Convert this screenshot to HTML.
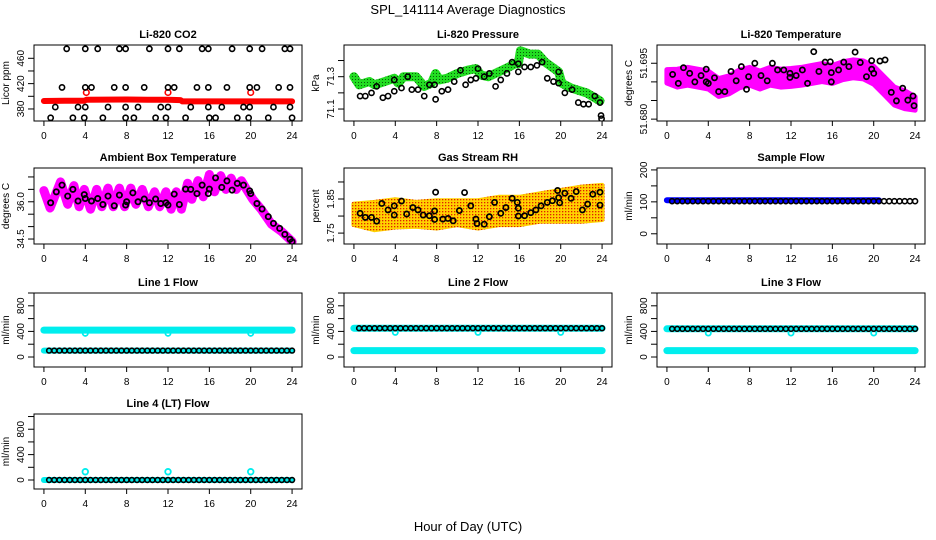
<!DOCTYPE html>
<html><head><meta charset="utf-8">
<style>
html,body{margin:0;padding:0;background:#fff;}
svg{display:block;font-family:"Liberation Sans",Arial,sans-serif;}
</style></head>
<body>
<svg id="chart" width="936" height="540" viewBox="0 0 936 540" xmlns="http://www.w3.org/2000/svg">
<defs>
<pattern id="pGreen" width="3" height="3" patternUnits="userSpaceOnUse"><rect width="3" height="3" fill="#22dd22"/><rect x="1" y="1" width="1" height="1" fill="#0a5a0a"/></pattern>
<pattern id="pOrange" width="3" height="3" patternUnits="userSpaceOnUse"><rect width="3" height="3" fill="#ffd200"/><rect x="1" y="1" width="1.3" height="1.3" fill="#e02000"/></pattern>
</defs>
<text x="468" y="14" text-anchor="middle" font-size="13">SPL_141114  Average Diagnostics</text>
<text x="468" y="531" text-anchor="middle" font-size="13">Hour of Day (UTC)</text>
</svg>
<script>
// ---------- DATA ----------
const xTicks = [0,4,8,12,16,20,24];

// Panel 1: CO2
const co2Hours = [2.2,4.0,5.2,7.3,7.9,10.2,12.0,13.1,15.3,15.9,18.2,19.9,21.1,23.3,23.8,
 1.75,4.0,4.6,6.8,7.9,9.7,12.0,12.6,14.8,15.9,17.7,19.9,20.6,22.7,23.8,
 1.1,3.3,4.0,6.2,7.9,9.1,11.3,12.0,14.2,15.9,17.2,19.3,19.9,22.2,23.8,
 0.65,2.8,3.9,5.7,7.9,8.7,10.8,11.8,13.7,16.0,16.6,18.7,19.8,21.7,24.0];
const co2Vals = [475,475,475,475,475,475,475,475,475,475,475,475,475,475,475,
 414,414,414,414,414,414,414,414,414,414,414,414,414,414,414,
 383,383,383,383,383,383,383,383,383,383,383,383,383,383,383,
 366,366,366,366,366,366,366,366,366,366,366,366,366,366,366];
const co2LineHours = [0,2,3.9,4.1,8,10,12,13.2,13.4,16,18,20,22,24];
const co2LineVals = [392.5,393,393,394.5,395,394.5,394.5,394,392,392,392,392,392,392];
const co2RedHours = [4.1,12.0,20.0];
const co2RedVals = [406,406,406];

// Panel 2: Pressure
const presGreenHours = [0,0.5,1.5,2,3,3.9,4.3,4.8,6,6.8,7.5,7.9,8.3,9,10,11,11.8,12.3,13,14,15,15.6,15.9,16.1,17,17.8,18.5,19.8,20.1,21,22.5,23.8];
const presGreenVals = [71.30,71.25,71.27,71.25,71.27,71.29,71.26,71.30,71.30,71.24,71.26,71.32,71.28,71.29,71.32,71.34,71.35,71.31,71.30,71.33,71.36,71.38,71.38,71.46,71.44,71.44,71.39,71.33,71.26,71.23,71.20,71.15];
const presHours = [0.6,1.1,1.7,2.2,2.8,3.3,3.9,3.9,4.6,5.2,5.6,6.2,6.8,7.3,7.8,7.9,8.5,9.1,9.7,10.3,10.8,11.3,11.8,12.0,12.6,13.1,13.7,14.2,14.8,15.3,15.9,15.9,16.5,17.1,17.7,18.2,18.7,19.3,19.8,19.8,20.4,21.1,21.7,22.2,22.7,23.3,23.8,23.9,23.95];
const presVals = [71.18,71.18,71.20,71.24,71.17,71.18,71.21,71.28,71.23,71.30,71.22,71.22,71.18,71.25,71.25,71.16,71.21,71.22,71.27,71.34,71.25,71.28,71.29,71.35,71.30,71.32,71.24,71.28,71.32,71.39,71.33,71.38,71.36,71.36,71.37,71.39,71.29,71.27,71.26,71.33,71.20,71.22,71.14,71.13,71.13,71.18,71.14,71.06,71.04];

// Panel 3: Li-820 temperature
const tempCloudHours = [0,1,2,3,4,5,6,7,8,9,10,11,12,13,14,15,16,17,18,19,20,21,22,23,24];
const tempCloudMid = [51.6915,51.6910,51.6915,51.6910,51.6905,51.6885,51.6892,51.6908,51.6915,51.6905,51.6915,51.6910,51.6912,51.6915,51.6920,51.6925,51.6920,51.6930,51.6935,51.6932,51.6918,51.6890,51.6862,51.6852,51.6842];
const tempCloudSpread = [0.0018,0.0024,0.0024,0.0024,0.0024,0.0024,0.0024,0.0024,0.0024,0.0024,0.0024,0.0024,0.0024,0.0024,0.0024,0.0024,0.0024,0.0024,0.0024,0.0024,0.0024,0.0024,0.0024,0.0024,0.0018];
const tempHours = [0.55,1.1,1.6,2.2,2.7,3.3,3.8,3.8,4.0,4.6,5.0,5.6,6.2,6.7,7.2,7.9,7.7,8.5,9.1,9.7,10.2,10.7,11.3,11.9,11.9,12.5,13.1,13.6,14.2,14.7,15.3,15.8,15.9,15.9,16.6,17.1,17.6,18.2,18.7,19.3,19.8,19.8,20.0,20.6,21.1,21.7,22.2,22.8,23.3,23.8,23.9];
const tempVals = [51.6920,51.6896,51.6938,51.6923,51.6900,51.6917,51.6934,51.6900,51.6896,51.6911,51.6874,51.6874,51.6928,51.6903,51.6941,51.6914,51.6880,51.6950,51.6917,51.6903,51.6950,51.6932,51.6932,51.6923,51.6912,51.6917,51.6932,51.6896,51.6981,51.6928,51.6953,51.6954,51.6925,51.6900,51.6932,51.6953,51.6941,51.6980,51.6952,51.6914,51.6957,51.6934,51.6923,51.6956,51.6959,51.6872,51.6849,51.6883,51.6851,51.6862,51.6836];

// Panel 4: Ambient box temperature
const ambLineHours = [0,0.6,1.6,2.3,2.9,3.4,3.9,4.5,5.1,5.6,6.2,6.7,7.3,7.8,8.4,8.9,9.5,10.1,10.7,11.2,11.8,12.3,12.8,13.3,13.9,14.3,14.9,15.4,16.0,16.5,17.1,17.6,18.1,18.6,19.1,19.6,20.2,21,22,23,24];
const ambLineVals = [36.45,35.75,36.8,35.9,36.65,35.8,36.5,35.7,36.5,35.8,36.55,35.8,36.55,35.8,36.55,35.9,36.5,35.8,36.4,35.8,36.4,35.7,36.4,35.7,36.75,36.1,36.85,36.2,37.1,36.4,37.05,36.5,36.95,36.5,36.85,36.5,36.1,35.7,35.1,34.8,34.4];
const ambHours = [0.65,1.2,1.75,2.3,2.8,3.3,3.9,4.0,4.6,5.2,5.7,6.2,6.8,7.3,7.9,8.0,8.6,9.1,9.7,10.2,10.8,11.3,11.8,12.0,12.6,13.1,13.7,14.2,14.8,15.3,15.9,16.0,16.6,17.2,17.7,18.2,18.7,19.3,19.9,20.0,20.6,21.1,21.7,22.2,22.8,23.3,23.8,24.0];
const ambVals = [35.96,36.4,36.67,36.23,36.5,36.03,36.29,36.13,36.03,36.13,35.89,36.23,35.84,36.27,35.87,36.0,36.36,36.0,36.11,35.96,36.11,35.93,35.96,35.87,36.31,35.89,36.51,36.5,36.33,36.67,36.33,36.51,36.96,36.58,36.84,36.47,36.74,36.67,36.44,36.33,35.93,35.71,35.4,35.13,34.93,34.69,34.49,34.39];

// Panel 5: Gas stream RH
const rhCloudHours = [0,2,4,6,8,10,12,14,16,18,20,22,24];
const rhCloudMid = [1.805,1.800,1.808,1.805,1.805,1.810,1.805,1.815,1.815,1.825,1.830,1.835,1.840];
const rhCloudSpread = [0.03,0.04,0.04,0.035,0.04,0.035,0.04,0.04,0.04,0.04,0.045,0.05,0.05];
const rhHours = [0.6,1.1,1.7,2.2,2.7,3.3,3.9,3.9,4.6,5.1,5.7,6.2,6.7,7.3,7.8,7.9,7.8,8.6,9.1,9.6,10.2,10.7,11.3,11.8,11.9,12.6,13.1,13.6,14.2,14.7,15.3,15.8,15.9,15.9,16.5,17.1,17.6,18.1,18.7,19.2,19.7,19.8,19.9,20.4,21.0,21.5,22.1,22.6,23.1,23.8,23.8];
const rhVals = [1.808,1.796,1.796,1.785,1.837,1.818,1.803,1.830,1.844,1.806,1.825,1.818,1.803,1.801,1.815,1.870,1.790,1.791,1.793,1.786,1.816,1.869,1.830,1.791,1.778,1.776,1.798,1.840,1.808,1.825,1.852,1.840,1.823,1.800,1.801,1.810,1.818,1.830,1.840,1.845,1.875,1.854,1.839,1.867,1.852,1.872,1.818,1.835,1.864,1.870,1.832];

// Shared hours for flow series
const flowHours = [0.5,1,1.5,2,2.5,3,3.5,4,4.5,5,5.5,6,6.5,7,7.5,8,8.5,9,9.5,10,10.5,11,11.5,12,12.5,13,13.5,14,14.5,15,15.5,16,16.5,17,17.5,18,18.5,19,19.5,20,20.5,21,21.5,22,22.5,23,23.5,24];

// Panel 6: Sample flow
const sampleBandHours = [0,20.5];
const sampleBandVals = [105,105];
const sampleVals = [102,102,102,102,102,102,102,102,102,102,102,102,102,102,102,102,102,102,102,102,102,102,102,102,102,102,102,102,102,102,102,102,102,102,102,102,102,102,102,102,102,102,102,102,102,102,102,102];

// Panels 7-10: line flows
const line1CyanHours = [0,24];
const line1CyanHigh = [420,420];
const line1CyanLow = [100,100];
const line1DipHours = [4,12,20];
const line1DipVals = [370,370,370];
const line1Vals = [100,100,100,100,100,100,100,100,100,100,100,100,100,100,100,100,100,100,100,100,100,100,100,100,100,100,100,100,100,100,100,100,100,100,100,100,100,100,100,100,100,100,100,100,100,100,100,100];

const line2CyanHours = [0,24];
const line2CyanHigh = [450,450];
const line2CyanLow = [100,100];
const line2DipHours = [4,12,20];
const line2DipVals = [385,385,385];
const line2Vals = [450,450,450,450,450,450,450,450,450,450,450,450,450,450,450,450,450,450,450,450,450,450,450,450,450,450,450,450,450,450,450,450,450,450,450,450,450,450,450,450,450,450,450,450,450,450,450,450];

const line3CyanHours = [0,24];
const line3CyanHigh = [440,440];
const line3CyanLow = [100,100];
const line3DipHours = [4,12,20];
const line3DipVals = [375,375,375];
const line3Vals = [440,440,440,440,440,440,440,440,440,440,440,440,440,440,440,440,440,440,440,440,440,440,440,440,440,440,440,440,440,440,440,440,440,440,440,440,440,440,440,440,440,440,440,440,440,440,440,440];

const line4CyanHours = [0,24];
const line4CyanLow = [0,0];
const line4SpikeHours = [4,12,20];
const line4SpikeVals = [130,130,130];
const line4Vals = [0,0,0,0,0,0,0,0,0,0,0,0,0,0,0,0,0,0,0,0,0,0,0,0,0,0,0,0,0,0,0,0,0,0,0,0,0,0,0,0,0,0,0,0,0,0,0,0];

// Y ticks
const co2Ticks = [380,400,420,440,460];  const co2Labels = ["380","","420","","460"];
const presTicks = [71.1,71.2,71.3,71.4]; const presLabels = ["71.1","","71.3",""];
const tempTicks = [51.680,51.685,51.690,51.695]; const tempLabels = ["51.680","","","51.695"];
const ambTicks = [34.5,35.0,35.5,36.0,36.5,37.0]; const ambLabels = ["34.5","","","36.0","",""];
const rhTicks = [1.75,1.80,1.85,1.90]; const rhLabels = ["1.75","","1.85",""];
const sfTicks = [0,50,100,150,200]; const sfLabels = ["0","","100","","200"];
const lfTicks = [0,200,400,600,800,1000]; const lfLabels = ["0","","400","","800",""];

// ---------- DRAW ----------
const svg = document.getElementById('chart');
const NS = 'http://www.w3.org/2000/svg';
function mk(tag, attrs, parent){
  const e = document.createElementNS(NS, tag);
  for (const k in attrs) e.setAttribute(k, attrs[k]);
  (parent||svg).appendChild(e);
  return e;
}
function panel(name, l, t, r, b, ylo, yhi, title, ylab, ticks, labels){
  const g = mk('g', {});
  
  
  const p = {g, l, t, r, b, ylo, yhi,
    x: h => l + (h + 0.96) / 25.92 * (r - l),
    y: v => b - (v - ylo) / (yhi - ylo) * (b - t)};
  const tt = mk('text', {x:(l+r)/2, y:t-7, 'text-anchor':'middle', 'font-size':11, 'font-weight':'bold'}, g);
  tt.textContent = title;
  
  
  const yt = mk('text', {x:0, y:0, 'text-anchor':'middle', 'font-size':10, transform:`translate(${l-25},${(t+b)/2}) rotate(-90)`}, g);
  yt.textContent = ylab;
  
  
  xTicks.forEach(h => {
    const xx = p.x(h);
    const tk = mk('line', {x1:xx, x2:xx, y1:b, y2:b+5, stroke:'#000', 'stroke-width':1}, g);
    
    
    const tl = mk('text', {x:xx, y:b+18, 'text-anchor':'middle', 'font-size':10}, g);
    tl.textContent = h;
    
    
  });
  ticks.forEach((v, i) => {
    const yy = p.y(v);
    const tk = mk('line', {x1:l-6, x2:l, y1:yy, y2:yy, stroke:'#000', 'stroke-width':1}, g);
    
    
    if (labels[i]) {
      const tl = mk('text', {x:0, y:0, 'text-anchor':'middle', 'font-size':10, transform:`translate(${l-10},${yy}) rotate(-90)`}, g);
      tl.textContent = labels[i];
      
      
    }
  });
  const clipId = 'c' + name;
  const cp = mk('clipPath', {id: clipId}, g);
  mk('rect', {x:l, y:t, width:r-l, height:b-t}, cp);
  p.plot = mk('g', {'clip-path':`url(#${clipId})`}, g);
  
  
  return p;
}
function frame(p){
  const bx = mk('rect', {x:p.l, y:p.t, width:p.r-p.l, height:p.b-p.t, fill:'none', stroke:'#000', 'stroke-width':1}, p.g);
  
  
}
function pts(p, hs, vs, color, r, sw, name){
  hs.forEach((h, i) => {
    const c = mk('circle', {cx:p.x(h), cy:p.y(vs[i]), r:r, fill:'none', stroke:color, 'stroke-width':sw}, p.plot);
    
    
  });
}
function line(p, hs, vs, color, w, name){
  const d = hs.map((h, i) => `${p.x(h).toFixed(1)},${p.y(vs[i]).toFixed(1)}`).join(' ');
  const pl = mk('polyline', {points:d, fill:'none', stroke:color, 'stroke-width':w, 'stroke-linejoin':'round', 'stroke-linecap':'round'}, p.plot);
  
  
}
function cloud(p, hs, mids, spreads, fill, name){
  const up = hs.map((h, i) => `${p.x(h).toFixed(1)},${p.y(mids[i] + spreads[i]).toFixed(1)}`);
  const dn = hs.map((h, i) => `${p.x(h).toFixed(1)},${p.y(mids[i] - spreads[i]).toFixed(1)}`).reverse();
  const pg = mk('polygon', {points: up.concat(dn).join(' '), fill:fill, stroke:fill, 'stroke-width':5, 'stroke-linejoin':'round'}, p.plot);
  
  
}

const C = [[34,302],[344,612],[657,925]];
const R = [[45,121],[168,244],[293,367],[414,489]];

let p = panel('co2-panel', C[0][0], R[0][0], C[0][1], R[0][1], 361, 481, 'Li-820 CO2', 'Licor ppm', co2Ticks, co2Labels);
line(p, co2LineHours, co2LineVals, '#ff0000', 6, 'co2-red-series');
pts(p, co2RedHours, co2RedVals, '#ff0000', 2.8, 1.6, 'co2-red-point');
pts(p, co2Hours, co2Vals, '#000', 2.6, 1.6, 'co2-point');
frame(p);

p = panel('pressure-panel', C[1][0], R[0][0], C[1][1], R[0][1], 71.026, 71.496, 'Li-820 Pressure', 'kPa', presTicks, presLabels);
line(p, presGreenHours, presGreenVals, 'url(#pGreen)', 9, 'pressure-green-series');
pts(p, presHours, presVals, '#000', 2.6, 1.6, 'pressure-point');
frame(p);

p = panel('li820-temp-panel', C[2][0], R[0][0], C[2][1], R[0][1], 51.6795, 51.6999, 'Li-820 Temperature', 'degrees C', tempTicks, tempLabels);
cloud(p, tempCloudHours, tempCloudMid, tempCloudSpread, '#ff00ff', 'temp-magenta-cloud');
pts(p, tempHours, tempVals, '#000', 2.6, 1.7, 'temp-point');
frame(p);

p = panel('ambient-temp-panel', C[0][0], R[1][0], C[0][1], R[1][1], 34.3, 37.36, 'Ambient Box Temperature', 'degrees C', ambTicks, ambLabels);
line(p, ambLineHours, ambLineVals, '#ff00ff', 9, 'ambient-magenta-series');
pts(p, ambHours, ambVals, '#000', 2.6, 1.8, 'ambient-point');
frame(p);

p = panel('rh-panel', C[1][0], R[1][0], C[1][1], R[1][1], 1.718, 1.941, 'Gas Stream RH', 'percent', rhTicks, rhLabels);
cloud(p, rhCloudHours, rhCloudMid, rhCloudSpread, 'url(#pOrange)', 'rh-orange-cloud');
pts(p, rhHours, rhVals, '#000', 2.6, 1.7, 'rh-point');
frame(p);

p = panel('sample-flow-panel', C[2][0], R[1][0], C[2][1], R[1][1], -32, 206, 'Sample Flow', 'ml/min', sfTicks, sfLabels);
line(p, sampleBandHours, sampleBandVals, '#0000ff', 6, 'sample-blue-series');
pts(p, flowHours, sampleVals, '#000', 2.5, 1.6, 'sample-point');
frame(p);

p = panel('line1-flow-panel', C[0][0], R[2][0], C[0][1], R[2][1], -156, 1000, 'Line 1 Flow', 'ml/min', lfTicks, lfLabels);
line(p, line1CyanHours, line1CyanHigh, '#00eeee', 7, 'line1-cyan-high');
line(p, line1CyanHours, line1CyanLow, '#00eeee', 6, 'line1-cyan-low');
pts(p, line1DipHours, line1DipVals, '#00eeee', 2.6, 1.8, 'line1-cyan-dip');
pts(p, flowHours, line1Vals, '#000', 2.4, 1.6, 'line1-point');
frame(p);

p = panel('line2-flow-panel', C[1][0], R[2][0], C[1][1], R[2][1], -156, 1000, 'Line 2 Flow', 'ml/min', lfTicks, lfLabels);
line(p, line2CyanHours, line2CyanHigh, '#00eeee', 7, 'line2-cyan-high');
line(p, line2CyanHours, line2CyanLow, '#00eeee', 7, 'line2-cyan-low');
pts(p, line2DipHours, line2DipVals, '#00eeee', 2.6, 1.8, 'line2-cyan-dip');
pts(p, flowHours, line2Vals, '#000', 2.4, 1.6, 'line2-point');
frame(p);

p = panel('line3-flow-panel', C[2][0], R[2][0], C[2][1], R[2][1], -156, 1000, 'Line 3 Flow', 'ml/min', lfTicks, lfLabels);
line(p, line3CyanHours, line3CyanHigh, '#00eeee', 7, 'line3-cyan-high');
line(p, line3CyanHours, line3CyanLow, '#00eeee', 7, 'line3-cyan-low');
pts(p, line3DipHours, line3DipVals, '#00eeee', 2.6, 1.8, 'line3-cyan-dip');
pts(p, flowHours, line3Vals, '#000', 2.4, 1.6, 'line3-point');
frame(p);

p = panel('line4-flow-panel', C[0][0], R[3][0], C[0][1], R[3][1], -142, 1040, 'Line 4 (LT) Flow', 'ml/min', lfTicks, lfLabels);
line(p, line4CyanHours, line4CyanLow, '#00eeee', 6, 'line4-cyan-low');
pts(p, line4SpikeHours, line4SpikeVals, '#00eeee', 2.8, 1.8, 'line4-cyan-spike');
pts(p, flowHours, line4Vals, '#000', 2.4, 1.6, 'line4-point');
frame(p);
</script>
</body></html>
